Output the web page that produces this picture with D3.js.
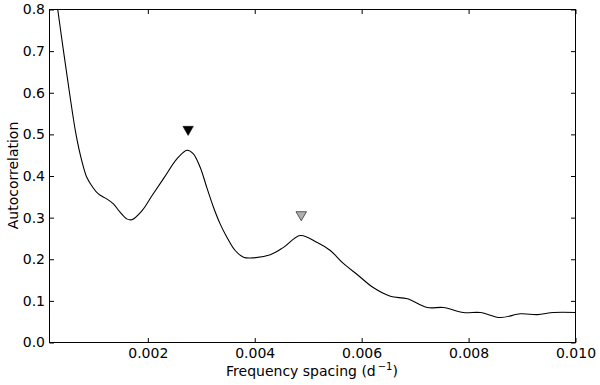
<!DOCTYPE html>
<html>
<head>
<meta charset="utf-8">
<script src="https://cdn.jsdelivr.net/npm/d3@7/dist/d3.min.js"></script>
<style>
  html, body { margin: 0; padding: 0; background: #fff; }
  svg { display: block; }
  text { font-family: "DejaVu Sans", sans-serif; }
</style>
</head>
<body>
<svg id="chart" width="600" height="385"></svg>
<script>
// Data
const freqSpacing = [0.000161, 0.000315, 0.000423, 0.000535, 0.000657, 0.000764, 0.000858,
  0.000970, 0.001075, 0.001232, 0.001356, 0.001481, 0.001606, 0.001700, 0.001893, 0.002080,
  0.002305, 0.002548, 0.002735, 0.002848, 0.002979, 0.003104, 0.003228, 0.003353,
  0.003479, 0.003634, 0.003790, 0.003915, 0.004290, 0.004533, 0.004852, 0.005170, 0.005413,
  0.005657, 0.005938, 0.006216, 0.006537, 0.006855, 0.007229, 0.007529, 0.007903, 0.008222,
  0.008596, 0.008971, 0.009289, 0.009589, 0.010000];
const autocorrelation = [0.95, 0.80, 0.70, 0.60, 0.50, 0.437, 0.397,
  0.373, 0.357, 0.345, 0.333, 0.313, 0.297, 0.295, 0.317, 0.353,
  0.396, 0.442, 0.462, 0.454, 0.421, 0.372, 0.325, 0.285,
  0.253, 0.221, 0.205, 0.203, 0.211, 0.228, 0.257, 0.240, 0.221,
  0.190, 0.161, 0.132, 0.111, 0.105, 0.084, 0.084, 0.072, 0.072,
  0.060, 0.069, 0.067, 0.072, 0.072];
const markerX = [0.002754, 0.004870];
const markerY = [0.512, 0.307];
const markerFill = ["#000000", "#b0b0b0"];
const xTicks = [0.002, 0.004, 0.006, 0.008, 0.010];
const yTicks = [0.0, 0.1, 0.2, 0.3, 0.4, 0.5, 0.6, 0.7, 0.8];
const xDomain = [0.000161, 0.010];
const yDomain = [0, 0.8];
const xLabel = "Frequency spacing (d";
const yLabel = "Autocorrelation";

(function () {
const svg = d3.select("#chart");
const pL = 49, pR = 575, pT = 9, pB = 342;
const x = d3.scaleLinear().domain(xDomain).range([pL, pR]);
const y = d3.scaleLinear().domain(yDomain).range([pB, pT]);

const g = svg.append("g").attr("transform", "translate(0.5,0.5)");

g.append("clipPath").attr("id", "clip")
  .append("rect").attr("x", pL).attr("y", pT).attr("width", pR - pL).attr("height", pB - pT);

const fmt = d3.format(".3f");
const fmtY = d3.format(".1f");

const xb = g.append("g").attr("transform", `translate(0,${pB})`)
  .call(d3.axisBottom(x).tickValues(xTicks).tickFormat(fmt).tickSizeInner(-4.5).tickSizeOuter(0).tickPadding(6));
const xt = g.append("g").attr("transform", `translate(0,${pT})`)
  .call(d3.axisTop(x).tickValues(xTicks).tickFormat("").tickSizeInner(-4.5).tickSizeOuter(0));
const yl = g.append("g").attr("transform", `translate(${pL},0)`)
  .call(d3.axisLeft(y).tickValues(yTicks).tickFormat(fmtY).tickSizeInner(-4.5).tickSizeOuter(0).tickPadding(4.5));
const yr = g.append("g").attr("transform", `translate(${pR},0)`)
  .call(d3.axisRight(y).tickValues(yTicks).tickFormat("").tickSizeInner(-4.5).tickSizeOuter(0));

[xb, xt, yl, yr].forEach(a => {
  a.select(".domain").remove();
  a.selectAll("line").attr("stroke", "#000").attr("stroke-width", 1);
  a.selectAll("text").attr("font-size", 14).attr("font-family", "DejaVu Sans, sans-serif").attr("fill", "#000");
});

g.append("rect").attr("x", pL).attr("y", pT).attr("width", pR - pL).attr("height", pB - pT)
  .attr("fill", "none").attr("stroke", "#000").attr("stroke-width", 1);

const pts = freqSpacing.map((d, i) => [d, autocorrelation[i]]);
const line = d3.line().x(d => x(d[0])).y(d => y(d[1])).curve(d3.curveCatmullRom.alpha(0.5));
g.append("path").attr("clip-path", "url(#clip)")
  .attr("d", line(pts)).attr("fill", "none").attr("stroke", "#000").attr("stroke-width", 1.1);

const tri = d3.symbol().type(d3.symbolTriangle).size(48);
g.selectAll(".mk").data(markerX).enter().append("path")
  .attr("d", tri())
  .attr("transform", (d, i) => `translate(${x(d)},${y(markerY[i])}) rotate(180)`)
  .attr("fill", (d, i) => markerFill[i])
  .attr("stroke", "#000").attr("stroke-width", (d, i) => i === 0 ? 0.5 : 0.6);

const xl = svg.append("text").attr("x", (pL + pR) / 2).attr("y", 376)
  .attr("text-anchor", "middle").attr("font-size", 14).attr("fill", "#000").text(xLabel);
xl.append("tspan").attr("font-size", 10).attr("dy", -6).attr("dx", 2).text("\u22121");
xl.append("tspan").attr("dy", 6).text(")");

svg.append("text").attr("transform", `translate(18,${(pT + pB) / 2}) rotate(-90)`)
  .attr("text-anchor", "middle").attr("font-size", 14).attr("fill", "#000").text(yLabel);
})();
</script>
</body>
</html>
